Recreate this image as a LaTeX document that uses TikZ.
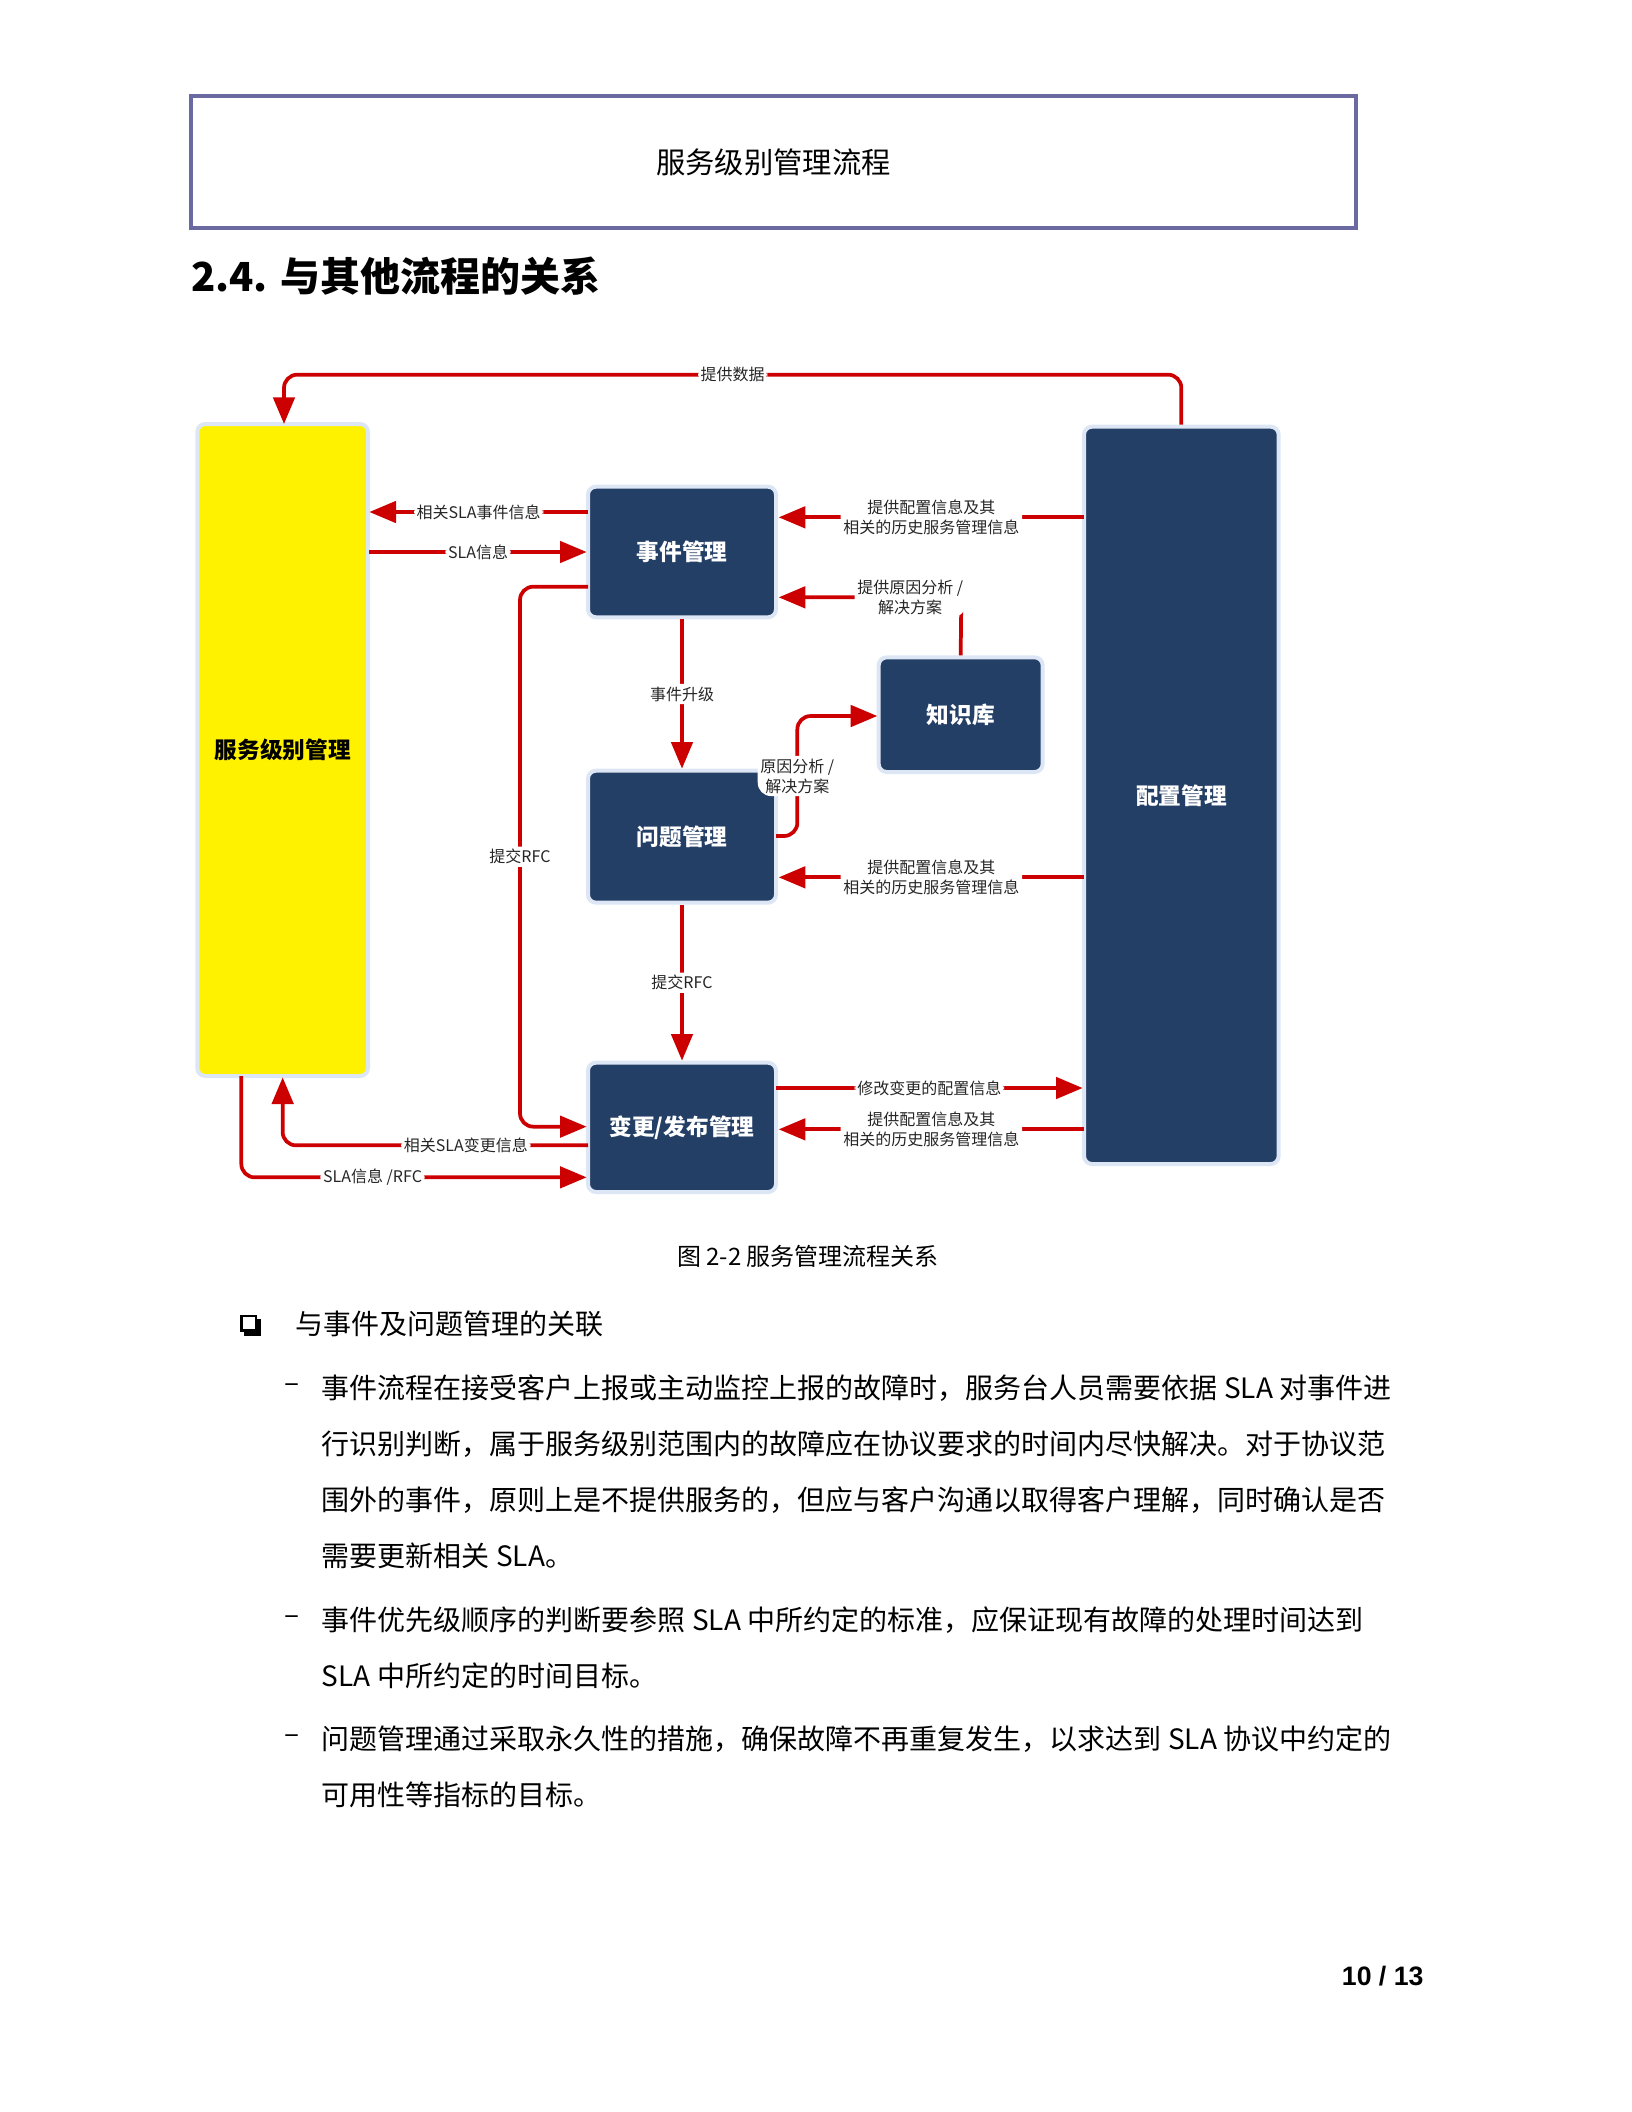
\documentclass[tikz,border=0pt]{standalone}
\usepackage{fontspec}
\setmainfont{Noto Sans CJK SC}
\newfontfamily\hei{Noto Sans CJK SC}
\newfontfamily\lat{Liberation Sans}
\usetikzlibrary{arrows.meta}
\definecolor{boxblue}{HTML}{243F66}
\definecolor{boxedge}{HTML}{DDE6F5}
\definecolor{ar}{HTML}{CC0000}
\definecolor{hdr}{HTML}{6A6AA0}
\tikzset{
  proc/.style={draw=boxedge,line width=1.5pt,fill=boxblue,rounded corners=3pt,text=white,font=\fontsize{8.5}{10}\selectfont\bfseries},
  conn/.style={draw=ar,line width=1.4pt,rounded corners=5pt,-{Triangle[length=10pt,width=8pt]}},
  lab/.style={fill=white,inner sep=1pt,font=\fontsize{6}{7.5}\selectfont,align=center,text=black!85},
  body/.style={anchor=west,inner sep=0pt,font=\fontsize{10.5}{12}\selectfont}
}
\begin{document}
\begin{tikzpicture}[x=0.5pt,y=-0.5pt]
\useasboundingbox (0,0) rectangle (1224,1584);
\node[draw=hdr,line width=1.6pt,minimum width=437pt,minimum height=49.5pt,font=\fontsize{11}{13}\selectfont] (hd) at (580,121.5) {服务级别管理流程};
\node[anchor=west,inner sep=0pt,font=\fontsize{15}{18}\selectfont\bfseries] (h2) at (143,207) {2.4. 与其他流程的关系};
% boxes
\node[proc,fill=yellow,text=black,minimum width=64pt,minimum height=244.5pt] (slm) at (212,562.5) {服务级别管理};
\node[proc,minimum width=70.5pt,minimum height=49pt] (inc) at (511.5,414) {事件管理};
\node[proc,minimum width=70.5pt,minimum height=49.5pt] (prb) at (511.5,627.5) {问题管理};
\node[proc,minimum width=70.5pt,minimum height=48.5pt] (chg) at (511.5,845.5) {变更/发布管理};
\node[proc,minimum width=61.5pt,minimum height=43pt] (kb) at (720.5,536) {知识库};
\node[proc,minimum width=73pt,minimum height=276.5pt] (cfg) at (886,596.5) {配置管理};
% connectors
\draw[conn] (cfg.north) -- (886,281) -- node[lab,pos=0.5]{提供数据} (213,281) -- (213,318);
\draw[conn] (441,384) -- node[lab]{相关SLA事件信息} (277,384);
\draw[conn] (277,414) -- node[lab]{SLA信息} (440,414);
\draw[conn] (813,388) -- node[lab]{提供配置信息及其\\相关的历史服务管理信息} (584,388);
\draw[conn] (kb.north) -- (721,448) -- node[lab,pos=0.28]{提供原因分析 /\\解决方案} (584,448);
\draw[conn] (inc.south) -- node[lab]{事件升级} (prb.north);
\draw[conn] (582,627) -- (598,627) -- node[lab,pos=0.5]{原因分析 /\\解决方案} (598,537) -- (658,537);
\draw[conn] (813,658) -- node[lab]{提供配置信息及其\\相关的历史服务管理信息} (584,658);
\draw[conn] (prb.south) -- node[lab]{提交RFC} (chg.north);
\draw[conn] (441,440) -- (390,440) -- node[lab,pos=0.5]{提交RFC} (390,845) -- (440,845);
\draw[conn] (582,816) -- node[lab]{修改变更的配置信息} (812,816);
\draw[conn] (813,847) -- node[lab]{提供配置信息及其\\相关的历史服务管理信息} (584,847);
\draw[conn] (441,859) -- node[lab,pos=0.4]{相关SLA变更信息} (212,859) -- (212,808);
\draw[conn] (181,807) -- (181,883) -- node[lab,pos=0.38]{SLA信息 /RFC} (440,883);
% caption & text
\node[font=\fontsize{9}{11}\selectfont] (cap) at (606,942) {图 2-2 服务管理流程关系};
\fill[black] (183,989) rectangle (196,1002);
\fill[white] (181,987) rectangle (192,998);
\draw[black,line width=0.9pt] (181,987) rectangle (192,998);
\node[body] (b0) at (221,993) {与事件及问题管理的关联};
\node[body] (d1) at (213,1041) {–};
\node[body] (l1) at (241,1041) {事件流程在接受客户上报或主动监控上报的故障时，服务台人员需要依据 SLA 对事件进};
\node[body] (l2) at (241,1083) {行识别判断，属于服务级别范围内的故障应在协议要求的时间内尽快解决。对于协议范};
\node[body] (l3) at (241,1125) {围外的事件，原则上是不提供服务的，但应与客户沟通以取得客户理解，同时确认是否};
\node[body] (l4) at (241,1167) {需要更新相关 SLA。};
\node[body] (d2) at (213,1215) {–};
\node[body] (l5) at (241,1215) {事件优先级顺序的判断要参照 SLA 中所约定的标准，应保证现有故障的处理时间达到};
\node[body] (l6) at (241,1257) {SLA 中所约定的时间目标。};
\node[body] (d3) at (213,1304) {–};
\node[body] (l7) at (241,1304) {问题管理通过采取永久性的措施，确保故障不再重复发生，以求达到 SLA 协议中约定的};
\node[body] (l8) at (241,1346) {可用性等指标的目标。};
\node[anchor=east,inner sep=0pt,font=\lat\fontsize{10}{12}\selectfont\bfseries] (pg) at (1068,1482) {10 / 13};
\end{tikzpicture}
\end{document}
